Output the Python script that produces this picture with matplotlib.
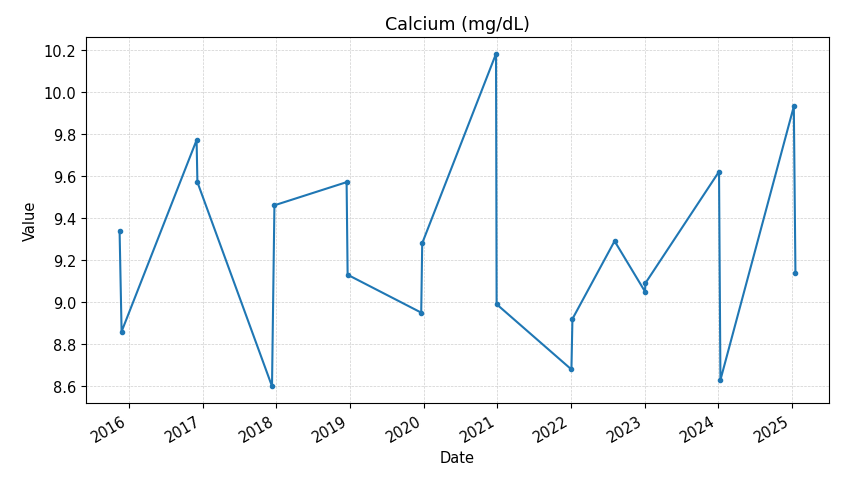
import matplotlib
matplotlib.use("Agg")
import matplotlib.pyplot as plt
import matplotlib.dates as mdates
import pandas as pd

dates = ["2015-11-15", "2015-11-25", "2016-12-01", "2016-12-05", "2017-12-10",
         "2017-12-22", "2018-12-15", "2018-12-20", "2019-12-20", "2019-12-25",
         "2020-12-25", "2020-12-28", "2022-01-03", "2022-01-08", "2022-08-05",
         "2023-01-03", "2023-01-05", "2024-01-05", "2024-01-12", "2025-01-10",
         "2025-01-18"]
values = [9.34, 8.86, 9.77, 9.57, 8.60, 9.46, 9.57, 9.13, 8.95, 9.28,
          10.18, 8.99, 8.68, 8.92, 9.29, 9.05, 9.09, 9.62, 8.63, 9.93, 9.14]

x = pd.to_datetime(dates)

plt.rcParams["font.size"] = 10.5
fig, ax = plt.subplots(figsize=(8.41, 4.89), dpi=100)
ax.plot(x, values, marker="o", markersize=3, color="#1f77b4")
ax.set_title("Calcium (mg/dL)")
ax.set_xlabel("Date")
ax.set_ylabel("Value")
ax.grid(True, linestyle="--", linewidth=0.5, alpha=0.6)
ax.xaxis.set_major_locator(mdates.YearLocator())
ax.xaxis.set_major_formatter(mdates.DateFormatter("%Y"))
fig.autofmt_xdate()
fig.subplots_adjust(left=0.102, right=0.986, top=0.922, bottom=0.174)
fig.savefig("out.png")
